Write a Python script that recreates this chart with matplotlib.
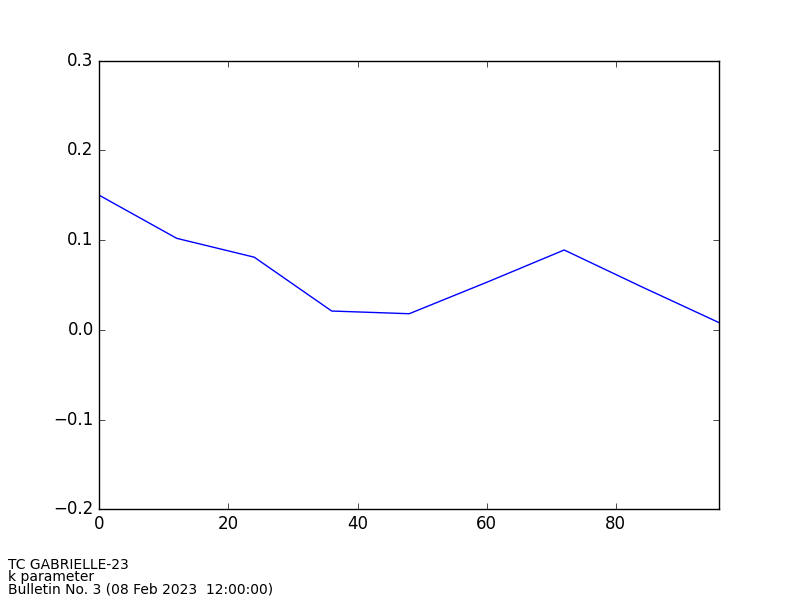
import matplotlib
matplotlib.use('Agg')
import matplotlib.pyplot as plt

plt.style.use('classic')

lead_hours = [0, 12, 24, 36, 48, 60, 72, 84, 96]
k_param = [0.150, 0.102, 0.081, 0.021, 0.018, 0.053, 0.089, 0.048, 0.008]

title_lines = ['TC GABRIELLE-23', 'k parameter', 'Bulletin No. 3 (08 Feb 2023  12:00:00)']

fig = plt.figure(figsize=(8, 6), dpi=100, facecolor='white')
ax = fig.add_axes([0.124, 0.151, 0.775, 0.748])
ax.plot(lead_hours, k_param, color='b', linewidth=1)
ax.set_xlim(0, 96)
ax.set_ylim(-0.2, 0.3)
ax.set_yticks([-0.2, -0.1, 0.0, 0.1, 0.2, 0.3])
ax.set_xticks([0, 20, 40, 60, 80])

fig.text(0.01, 0.006, '\n'.join(title_lines), fontsize=10, ha='left', va='bottom',
         linespacing=0.85)

fig.savefig('out.png', dpi=100, facecolor='white')
